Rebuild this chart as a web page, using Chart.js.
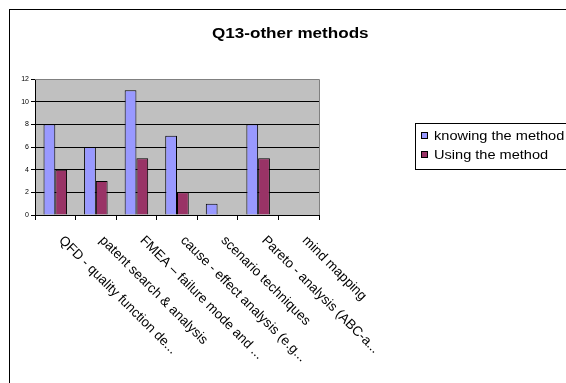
<!DOCTYPE html>
<html>
<head>
<meta charset="utf-8">
<script src="https://cdn.jsdelivr.net/npm/chart.js@4/dist/chart.umd.min.js"></script>
<style>
  html, body { margin: 0; padding: 0; background: #fff; }
  #wrap { width: 566px; height: 383px; }
</style>
</head>
<body>
<div id="wrap"><canvas id="chartCanvas" width="566" height="383"></canvas></div>
<script>
const chartTitle = "Q13-other methods";
const categories = [
  "QFD - quality function de...",
  "patent search & analysis",
  "FMEA \u2013 failure mode and ...",
  "cause - effect analysis (e.g...",
  "scenario techniques",
  "Pareto - analysis (ABC-a...",
  "mind mapping"
];
const knowingValues = [8, 6, 11, 7, 1, 8, 0];
const usingValues = [4, 3, 5, 2, 0, 5, 0];
const yTicks = [0, 2, 4, 6, 8, 10, 12];

const FONT = "'Liberation Sans', Arial, sans-serif";

// text in the original picture is a bit wider than plain Arial
function wideText(ctx, txt, x, y, sx) {
  ctx.save();
  ctx.translate(x, y);
  ctx.scale(sx, 1);
  ctx.fillText(txt, 0, 0);
  ctx.restore();
}

// frame, plot background, title, rotated labels and legend box
const decor = {
  id: "decor",
  beforeDraw(chart) {
    const ctx = chart.ctx;
    const a = chart.chartArea;
    ctx.save();
    ctx.fillStyle = "#fff";
    ctx.fillRect(0, 0, chart.width, chart.height);
    ctx.strokeStyle = "#000";
    ctx.lineWidth = 1;
    ctx.strokeRect(9.5, 9.5, 620, 420);
    ctx.fillStyle = "#c0c0c0";
    ctx.fillRect(a.left, a.top, a.right - a.left, a.bottom - a.top);
    ctx.restore();
  },
  afterDraw(chart) {
    const ctx = chart.ctx;
    const a = chart.chartArea;
    const xs = chart.scales.x;
    ctx.save();
    // plot border top/right
    ctx.strokeStyle = "#808080";
    ctx.beginPath();
    ctx.moveTo(a.left, a.top + 0.5);
    ctx.lineTo(a.right + 0.5, a.top + 0.5);
    ctx.lineTo(a.right + 0.5, a.bottom);
    ctx.stroke();

    // title
    ctx.fillStyle = "#000";
    ctx.font = "bold 14px " + FONT;
    ctx.textAlign = "left";
    ctx.textBaseline = "middle";
    wideText(ctx, chartTitle, 212, 34, 1.22);

    // category labels, rotated down-right
    ctx.font = "13.5px " + FONT;
    ctx.textBaseline = "alphabetic";
    categories.forEach((lab, i) => {
      const cx = xs.getPixelForValue(i);
      ctx.save();
      ctx.translate(cx + 3, a.bottom + 26);
      ctx.rotate(Math.PI / 4);
      ctx.fillText(lab, 0, 0);
      ctx.restore();
    });

    // legend
    ctx.strokeStyle = "#000";
    ctx.strokeRect(415.5, 123.5, 170, 46);
    ctx.font = "13px " + FONT;
    ctx.textBaseline = "middle";
    chart.data.datasets.forEach((ds, i) => {
      const y = 136 + i * 19;
      ctx.fillStyle = ds.backgroundColor;
      ctx.fillRect(421.5, y - 3.5, 6, 6);
      ctx.strokeRect(421.5, y - 3.5, 6, 6);
      ctx.fillStyle = "#000";
      wideText(ctx, ds.label, 434, y, 1.12);
    });
    ctx.restore();
  }
};

new Chart(document.getElementById("chartCanvas").getContext("2d"), {
  type: "bar",
  data: {
    labels: categories,
    datasets: [
      {
        label: "knowing the method",
        data: knowingValues,
        backgroundColor: "#9999ff",
        borderColor: "#000",
        borderWidth: 1,
        borderSkipped: "start"
      },
      {
        label: "Using the method",
        data: usingValues,
        backgroundColor: "#993366",
        borderColor: "#000",
        borderWidth: 1,
        borderSkipped: "start"
      }
    ]
  },
  options: {
    responsive: false,
    animation: false,
    events: [],
    layout: { padding: { left: 0, top: 79, right: 247, bottom: 163 } },
    plugins: {
      legend: { display: false },
      title: { display: false },
      tooltip: { enabled: false }
    },
    datasets: { bar: { categoryPercentage: 0.58, barPercentage: 1 } },
    scales: {
      x: {
        offset: true,
        grid: {
          offset: true,
          drawOnChartArea: false,
          drawTicks: true,
          tickLength: 5,
          color: "#000"
        },
        border: { color: "#000" },
        ticks: { display: false },
        afterFit: s => { s.height = 5; }
      },
      y: {
        min: 0,
        max: 12,
        afterBuildTicks: s => { s.ticks = yTicks.map(v => ({ value: v })); },
        grid: { color: "#000", tickLength: 4 },
        border: { color: "#000" },
        ticks: {
          font: { size: 7, family: FONT },
          color: "#000",
          padding: 2
        },
        afterFit: s => { s.width = 35; }
      }
    }
  },
  plugins: [decor]
});
</script>
</body>
</html>
